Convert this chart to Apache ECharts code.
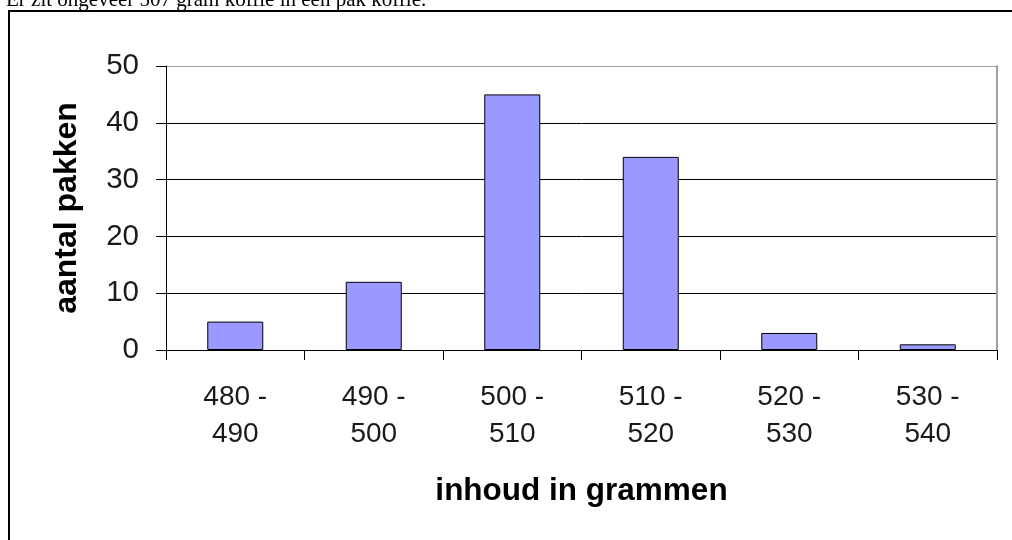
<!DOCTYPE html>
<html>
<head>
<meta charset="utf-8">
<script src="https://cdn.jsdelivr.net/npm/echarts@6/dist/echarts.min.js"></script>
<style>
html,body{margin:0;padding:0;background:#fff;}
#chart{width:1012px;height:540px;}
</style>
</head>
<body>
<div id="chart"></div>
<script>
const categories = ["480 -\n490", "490 -\n500", "500 -\n510", "510 -\n520", "520 -\n530", "530 -\n540"];
const counts = [5, 12, 45, 34, 3, 1];
const yTicks = [0, 10, 20, 30, 40, 50];
const xTitle = "inhoud in grammen";
const yTitle = "aantal pakken";
const caption = "Er zit ongeveer 507 gram koffie in een pak koffie.";

const sans = "Arial, 'Liberation Sans', sans-serif";
const chart = echarts.init(document.getElementById('chart'), null, {renderer: 'canvas'});
chart.setOption({
  animation: false,
  backgroundColor: '#ffffff',
  graphic: [
    {type: 'text', left: 6, top: -10, z: 10,
     style: {text: caption, font: "21px 'Liberation Serif', 'Times New Roman', serif", fill: '#000'}},
    {type: 'line', shape: {x1: 8, y1: 11, x2: 1012, y2: 11}, style: {stroke: '#000', lineWidth: 2}, z: 10},
    {type: 'line', shape: {x1: 9, y1: 10, x2: 9, y2: 540}, style: {stroke: '#000', lineWidth: 2}, z: 10}
  ],
  grid: {left: 166, right: 15, top: 66, bottom: 190, containLabel: false},
  xAxis: {
    type: 'category',
    data: categories,
    boundaryGap: true,
    axisLine: {show: true, lineStyle: {color: '#000', width: 1}},
    axisTick: {show: true, length: 10, lineStyle: {color: '#000', width: 1}},
    axisLabel: {color: '#1a1a1a', fontSize: 28, fontFamily: sans, margin: 29, lineHeight: 37, interval: 0},
    splitLine: {show: false},
    name: xTitle,
    nameLocation: 'middle',
    nameGap: 125,
    nameTextStyle: {color: '#000', fontSize: 31.5, fontWeight: 'bold', fontFamily: sans}
  },
  yAxis: [
    {
      type: 'value',
      min: yTicks[0],
      max: yTicks[yTicks.length - 1],
      interval: 10,
      axisLine: {show: true, lineStyle: {color: '#000', width: 1}},
      axisTick: {show: true, length: 10, lineStyle: {color: '#000', width: 1}},
      axisLabel: {color: '#1a1a1a', fontSize: 29.5, fontFamily: sans, margin: 27},
      splitLine: {show: true, lineStyle: {color: ['#000', '#000', '#000', '#000', '#000', '#a0a0a0'], width: 1}},
      name: yTitle,
      nameLocation: 'middle',
      nameGap: 83,
      nameRotate: 90,
      nameTextStyle: {color: '#000', fontSize: 32, fontWeight: 'bold', fontFamily: sans}
    },
    {
      type: 'value',
      position: 'right',
      min: yTicks[0],
      max: yTicks[yTicks.length - 1],
      interval: 10,
      axisLine: {show: true, lineStyle: {color: '#a0a0a0', width: 2}},
      axisTick: {show: false},
      axisLabel: {show: false},
      splitLine: {show: false}
    }
  ],
  series: [{
    type: 'bar',
    data: counts,
    barWidth: 56,
    itemStyle: {color: '#9999ff', borderColor: '#000', borderWidth: 1}
  }]
});
</script>
</body>
</html>
